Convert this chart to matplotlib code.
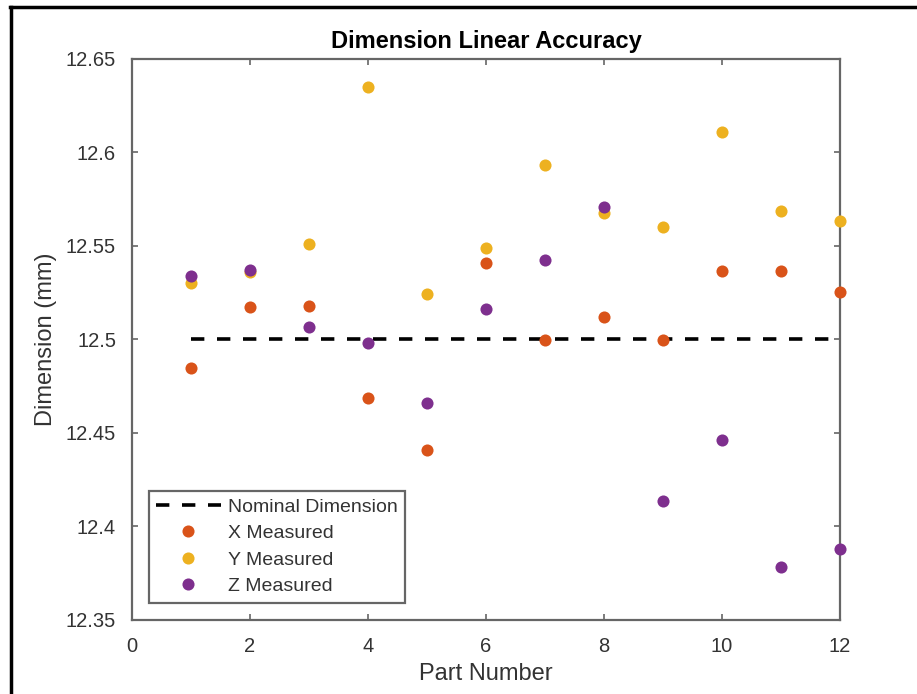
import matplotlib
matplotlib.use("Agg")
import matplotlib.pyplot as plt
from matplotlib.lines import Line2D

plt.rcParams['font.family'] = ['Liberation Sans', 'DejaVu Sans']

# Measured dimensions for each part (mm)
parts = [1, 2, 3, 4, 5, 6, 7, 8, 9, 10, 11, 12]
x_measured = [12.4848, 12.5173, 12.5177, 12.4684, 12.4409, 12.5406,
              12.4995, 12.5120, 12.4996, 12.5366, 12.5364, 12.5252]
y_measured = [12.5302, 12.5361, 12.5511, 12.6350, 12.5243, 12.5491,
              12.5931, 12.5674, 12.5602, 12.6111, 12.5686, 12.5634]
z_measured = [12.5336, 12.5373, 12.5068, 12.4980, 12.4659, 12.5162,
              12.5423, 12.5707, 12.4133, 12.4462, 12.3780, 12.3875]
nominal = 12.5

x_ticks = [0, 2, 4, 6, 8, 10, 12]
y_ticks = [12.35, 12.4, 12.45, 12.5, 12.55, 12.6, 12.65]
y_tick_labels = ['12.35', '12.4', '12.45', '12.5', '12.55', '12.6', '12.65']

c_x = '#D95319'
c_y = '#EDB120'
c_z = '#7E2F8E'
axis_gray = '#666666'
text_gray = '#333333'

fig = plt.figure(figsize=(9.17, 6.94), dpi=100)
ax = fig.add_axes([132 / 917, 1 - 619.5 / 694, 708 / 917, 560.5 / 694])

ax.plot([parts[0], parts[-1]], [nominal, nominal], color='black', lw=2.6,
        linestyle=(0, (3.7, 3.5)), label='Nominal Dimension', zorder=2)
ms = 8.7
ax.plot(parts, x_measured, 'o', color=c_x, ms=ms, mec='none',
        label='X Measured', zorder=3, clip_on=False)
ax.plot(parts, y_measured, 'o', color=c_y, ms=ms, mec='none',
        label='Y Measured', zorder=3, clip_on=False)
ax.plot(parts, z_measured, 'o', color=c_z, ms=ms, mec='none',
        label='Z Measured', zorder=4, clip_on=False)

ax.set_xlim(0, 12)
ax.set_ylim(12.35, 12.65)
ax.set_xticks(x_ticks)
ax.set_xticklabels([str(t) for t in x_ticks])
ax.set_yticks(y_ticks)
ax.set_yticklabels(y_tick_labels)

for s in ax.spines.values():
    s.set_color(axis_gray)
    s.set_linewidth(1.6)

ax.tick_params(direction='in', length=4, width=1.2, color=axis_gray,
               labelcolor=text_gray, labelsize=14.5, top=True, right=True)
ax.tick_params(axis='x', pad=12.5)
ax.tick_params(axis='y', pad=11.5)

ax.set_xlabel('Part Number', fontsize=17, color=text_gray, labelpad=5)
ax.set_ylabel('Dimension (mm)', fontsize=17, color=text_gray, labelpad=6)
ax.set_title('Dimension Linear Accuracy', fontsize=17, fontweight='bold',
             color='black', pad=8)

leg = ax.legend(loc='lower left', bbox_to_anchor=(0.024, 0.030),
                borderaxespad=0, fontsize=14, handlelength=3.3,
                handletextpad=0.4, labelspacing=0.46, borderpad=0.38,
                fancybox=False, framealpha=1, edgecolor=axis_gray,
                numpoints=1)
leg.get_frame().set_linewidth(1.6)
for t in leg.get_texts():
    t.set_color(text_gray)

# black frame along the left and top edges of the image
fig.add_artist(Line2D([10.5 / 917, 10.5 / 917], [0, 1 - 6.5 / 694],
                      transform=fig.transFigure, color='black', lw=2.5))
fig.add_artist(Line2D([9.5 / 917, 1], [1 - 6.5 / 694, 1 - 6.5 / 694],
                      transform=fig.transFigure, color='black', lw=2.5))

fig.savefig('out.png', dpi=100)
